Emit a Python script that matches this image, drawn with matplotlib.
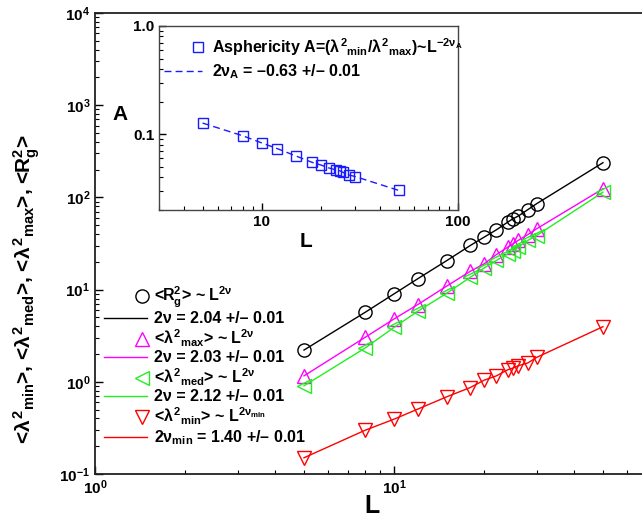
import numpy as np
import matplotlib
matplotlib.use("Agg")
import matplotlib.pyplot as plt
from matplotlib.lines import Line2D
from matplotlib.legend_handler import HandlerLine2D
from matplotlib.ticker import FuncFormatter, FixedLocator, FixedFormatter, NullFormatter, LogLocator

plt.rcParams['font.family'] = ['Liberation Sans', 'DejaVu Sans']
plt.rcParams['font.weight'] = 'bold'
plt.rcParams['mathtext.fontset'] = 'custom'
plt.rcParams['mathtext.rm'] = 'Liberation Sans:bold'
plt.rcParams['mathtext.it'] = 'Liberation Sans:bold'
plt.rcParams['mathtext.bf'] = 'Liberation Sans:bold'
plt.rcParams['mathtext.sf'] = 'Liberation Sans:bold'

# chain lengths
L = [5, 8, 10, 12, 15, 18, 20, 22, 24, 25, 26, 28, 30, 50]

# mean squared radius of gyration and eigenvalues of the gyration tensor
rg2 = [2.21, 5.66, 8.98, 13.1, 20.6, 30.1, 37.0, 44.5, 53.9, 58.7, 62.6, 73.5, 85.5, 238]
lam_max = [1.16, 3.03, 4.80, 6.87, 10.9, 15.8, 19.0, 24.0, 28.8, 31.4, 34.1, 39.4, 45.7, 124]
lam_med = [0.905, 2.32, 3.89, 5.81, 9.12, 13.6, 17.1, 20.7, 24.4, 26.5, 28.8, 34.1, 38.6, 114]
lam_min = [0.150, 0.298, 0.393, 0.505, 0.687, 0.867, 1.04, 1.16, 1.35, 1.41, 1.49, 1.60, 1.84, 3.96]

# asphericity (inset)
asph = [0.127, 0.097, 0.0833, 0.0738, 0.0629, 0.0552, 0.0521, 0.0489, 0.0468,
        0.0460, 0.0444, 0.0420, 0.0407, 0.0303]


class RightMarker(HandlerLine2D):
    # single marker near the right end of the handle, like the original
    def create_artists(self, legend, orig_handle, xdescent, ydescent,
                       width, height, fontsize, trans):
        y = (height - ydescent) / 2
        mark = Line2D([-xdescent + 0.88 * width], [y])
        self.update_prop(mark, orig_handle, legend)
        mark.set_linestyle('none')
        mark.set_transform(trans)
        return [mark]


fig = plt.figure(figsize=(6.42, 5.18), dpi=100)
W, H = 642.0, 518.0

ax = fig.add_axes([95 / W, 44 / H, 598 / W, 461 / H])
ax.set_xscale('log')
ax.set_yscale('log')
ax.set_xlim(1, 100)
ax.set_ylim(0.1, 1e4)

mk = dict(mfc='none', ls='none', mew=1.0)
series = [
    (rg2, 'black', 'o', 9.5, '<R$_{g}^{2}$> ~ L$^{2\\nu}$', '2ν = 2.04 +/– 0.01'),
    (lam_max, '#ff00ff', '^', 9.5, '<$\\lambda^{2}{}_{max}$> ~ L$^{2\\nu}$', '2ν = 2.03 +/– 0.01'),
    (lam_med, '#22ee22', '<', 9.5, '<$\\lambda^{2}{}_{med}$> ~ L$^{2\\nu}$', '2ν = 2.12 +/– 0.01'),
    (lam_min, '#ff0000', 'v', 9.5, '<$\\lambda^{2}{}_{min}$> ~ L$^{2\\nu_{min}}$', '2ν$_{min}$ = 1.40 +/– 0.01'),
]
handles, labels = [], []
for y, c, m, ms, lab_m, lab_l in series:
    hm, = ax.plot(L, y, marker=m, ms=ms, mec=c, color=c, **mk)
    hl, = ax.plot(L, y, '-', color=c, lw=1.0)
    handles += [hm, hl]
    labels += [lab_m, lab_l]

ax.tick_params(which='both', direction='in', labelsize=11, top=False, right=False)
ax.tick_params(which='major', length=6, width=1)
ax.tick_params(which='minor', length=3, width=0.8)
ax.xaxis.set_major_locator(FixedLocator([1, 10]))
ax.xaxis.set_major_formatter(FuncFormatter(lambda v, p: '$10^{%d}$' % round(np.log10(v))))
ax.yaxis.set_major_formatter(FuncFormatter(lambda v, p: '$10^{%d}$' % round(np.log10(v))))
ax.xaxis.set_minor_locator(LogLocator(base=10, subs=np.arange(2, 10), numticks=20))
ax.yaxis.set_minor_locator(LogLocator(base=10, subs=np.arange(2, 10), numticks=20))
ax.yaxis.set_minor_formatter(NullFormatter())
ax.xaxis.set_minor_formatter(NullFormatter())
for s in ax.spines.values():
    s.set_linewidth(1.3)
    s.set_color('#222222')

ax.set_xlabel('L', fontsize=18, fontweight='bold')
ax.xaxis.set_label_coords(0.463, -0.044)
ax.set_ylabel('<$\\lambda^{2}{}_{min}$>, <$\\lambda^{2}{}_{med}$>, <$\\lambda^{2}{}_{max}$>, <R$_{g}^{2}$>',
              fontsize=15, fontweight='bold')
ax.yaxis.set_label_coords(-0.089, 0.40)

ax.legend(handles, labels, loc='upper left', bbox_to_anchor=(104 / W, (518 - 285) / H),
          bbox_transform=fig.transFigure, frameon=False, fontsize=11.5,
          handlelength=2.7, handletextpad=0.45, labelspacing=0.08,
          borderpad=0, borderaxespad=0, numpoints=1,
          handler_map={h: RightMarker() for h in handles[::2]})

# inset: asphericity
ai = fig.add_axes([159 / W, (518 - 210) / H, 299 / W, 184 / H])
ai.set_xscale('log')
ai.set_yscale('log')
ai.set_xlim(3, 100)
ai.set_ylim(0.02, 1.0)
hs, = ai.plot(L, asph, marker='s', ms=7, mec='#1a1aff', mfc='none', ls='none', mew=1.0)
hd, = ai.plot(L, asph, '--', color='#1a1aff', lw=1.0, dashes=(5, 3))
ai.xaxis.set_major_locator(FixedLocator([10, 100]))
ai.xaxis.set_major_formatter(FixedFormatter(['10', '100']))
ai.xaxis.set_minor_locator(LogLocator(base=10, subs=np.arange(2, 10), numticks=20))
ai.xaxis.set_minor_formatter(NullFormatter())
ai.yaxis.set_major_locator(FixedLocator([0.1, 1.0]))
ai.yaxis.set_major_formatter(FixedFormatter(['0.1', '1.0']))
ai.yaxis.set_minor_locator(LogLocator(base=10, subs=np.arange(2, 10), numticks=20))
ai.yaxis.set_minor_formatter(NullFormatter())
ai.tick_params(which='both', direction='in', labelsize=11, top=False, right=False)
ai.tick_params(which='major', length=5, width=1)
ai.tick_params(which='minor', length=3, width=0.8)
for s in ai.spines.values():
    s.set_linewidth(1.0)
    s.set_color('#444444')
ai.set_xlabel('L', fontsize=15, fontweight='bold')
ai.xaxis.set_label_coords(0.49, -0.12)
ai.set_ylabel('A', fontsize=15, fontweight='bold', rotation=0)
ai.yaxis.set_label_coords(-0.13, 0.47)
ai.legend([hs, hd],
          ['Asphericity A=($\\lambda^{2}{}_{min}$/$\\lambda^{2}{}_{max}$)~L$^{-2\\nu_{A}}$',
           '2ν$_{A}$ = –0.63 +/– 0.01'],
          loc='upper left', bbox_to_anchor=(164 / W, (518 - 36) / H),
          bbox_transform=fig.transFigure, frameon=False, fontsize=11.5,
          handlelength=2.4, handletextpad=0.6, labelspacing=0.3,
          borderpad=0, borderaxespad=0, numpoints=1,
          handler_map={hs: RightMarker()})

fig.savefig('out.png', dpi=100)
